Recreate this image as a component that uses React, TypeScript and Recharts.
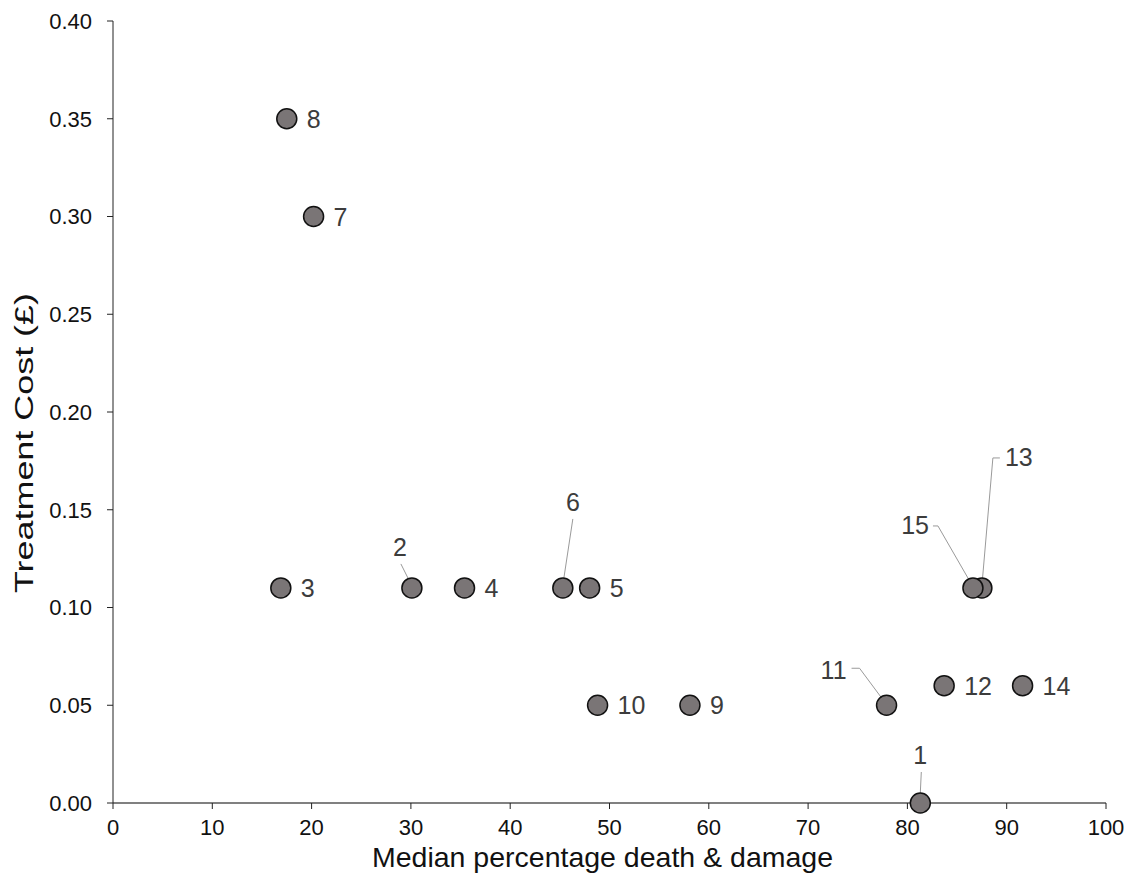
import React from 'react';
import { ScatterChart, Scatter, XAxis, YAxis } from 'recharts';

const ids = [1, 2, 3, 4, 5, 6, 7, 8, 9, 10, 11, 12, 13, 14, 15];
const damage = [81.3, 30.1, 16.9, 35.4, 48.0, 45.3, 20.2, 17.5, 58.1, 48.8, 77.9, 83.7, 87.5, 91.6, 86.6];
const cost = [0.0, 0.11, 0.11, 0.11, 0.11, 0.11, 0.3, 0.35, 0.05, 0.05, 0.05, 0.06, 0.11, 0.06, 0.11];

const xTicks = [0, 10, 20, 30, 40, 50, 60, 70, 80, 90, 100];
const yTicks = [0, 0.05, 0.1, 0.15, 0.2, 0.25, 0.3, 0.35, 0.4];

const points = ids.map((id, i) => ({ id, x: damage[i], y: cost[i] }));

// callouts for the crowded points, offsets relative to the marker centre
type Callout = { anchor: 'start' | 'middle' | 'end'; dx: number; dy: number; leader?: [number, number][] };
const callouts: Record<number, Callout> = {
  1: { anchor: 'middle', dx: 0, dy: -48, leader: [[1, -31], [0, -10]] },
  2: { anchor: 'middle', dx: -12, dy: -41, leader: [[-11, -24], [0, -2]] },
  6: { anchor: 'middle', dx: 10, dy: -86, leader: [[10, -69], [0, -3]] },
  11: { anchor: 'end', dx: -40, dy: -35, leader: [[-35, -37], [-27, -37], [-1, -2]] },
  13: { anchor: 'start', dx: 23, dy: -131, leader: [[18, -130], [11, -130], [0, -2]] },
  15: { anchor: 'end', dx: -44, dy: -63, leader: [[-40, -62], [-35, -62], [-1, -3]] },
};

const font = '"Liberation Sans", Arial, sans-serif';

const Marker = (props: any) => {
  const { cx, cy, payload } = props;
  const c = callouts[payload.id] || { anchor: 'start', dx: 20, dy: 0 };
  return (
    <g>
      {c.leader && (
        <polyline
          points={c.leader.map(([a, b]) => `${cx + a},${cy + b}`).join(' ')}
          fill="none"
          stroke="#9a9a9a"
          strokeWidth={1}
        />
      )}
      <circle cx={cx} cy={cy} r={10} fill="#7a7576" stroke="#111" strokeWidth={1.5} />
      <text
        x={cx + c.dx}
        y={cy + c.dy}
        dy="0.36em"
        textAnchor={c.anchor}
        fontSize={25}
        fontFamily={font}
        fill="#3c3c3c"
      >
        {payload.id}
      </text>
    </g>
  );
};

export default function App() {
  return (
    <ScatterChart width={1124} height={878} margin={{ top: 13, right: 26, left: 0, bottom: 0 }}>
      <XAxis
        type="number"
        dataKey="x"
        domain={[0, 100]}
        ticks={xTicks}
        height={83}
        tickSize={6}
        tickMargin={10}
        axisLine={{ stroke: '#808080', strokeWidth: 2 }}
        tickLine={{ stroke: '#222' }}
        tick={{ fontSize: 22, fontFamily: font, fill: '#111' }}
        label={{
          content: ({ viewBox }: any) => (
            <text
              x={viewBox.x + viewBox.width / 2 - 7}
              y={viewBox.y + 64}
              textAnchor="middle"
              fontSize={28.5}
              fontFamily={font}
              fill="#111"
            >
              Median percentage death &amp; damage
            </text>
          ),
        }}
      />
      <YAxis
        type="number"
        dataKey="y"
        domain={[0, 0.4]}
        ticks={yTicks}
        width={105}
        tickSize={6}
        tickMargin={15}
        tickFormatter={(v: number) => v.toFixed(2)}
        axisLine={{ stroke: '#222', strokeWidth: 1 }}
        tickLine={{ stroke: '#222' }}
        tick={{ fontSize: 22, fontFamily: font, fill: '#111' }}
        label={{
          content: () => (
            <text
              transform="translate(25,435) rotate(-90)"
              textAnchor="middle"
              fontSize={26}
              fontFamily={font}
              fill="#111"
              textLength={300}
              lengthAdjust="spacingAndGlyphs"
            >
              Treatment Cost (£)
            </text>
          ),
        }}
      />
      <Scatter data={points} shape={Marker} isAnimationActive={false} />
    </ScatterChart>
  );
}
